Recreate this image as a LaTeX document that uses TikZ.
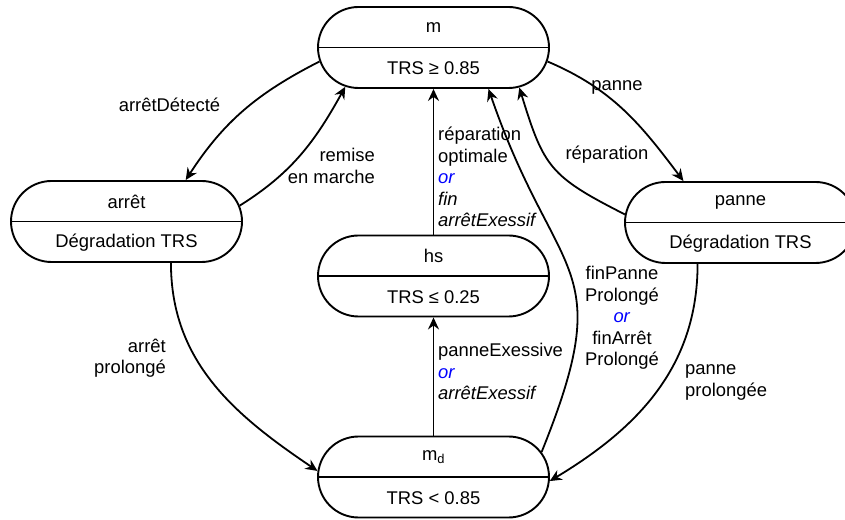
\documentclass[tikz,border=0pt]{standalone}
\usepackage{fontspec}
\setmainfont{Liberation Sans}
\usetikzlibrary{shapes.misc,arrows.meta,backgrounds}
\newcommand{\etat}[4]{
\node[etat] (#1) at (#2) {};
\draw[trait] (#1.west) -- (#1.east);
\node[texte] (#1-titre) at ([yshift=20pt]#1.center) {#3};
\node[texte] (#1-trs) at ([yshift=-21pt]#1.center) {#4};
}
\newcommand{\ou}{\textcolor{blue}{\textit{or}}}

\begin{document}
\begin{tikzpicture}[x=1pt,y=1pt,
    etat/.style={rounded rectangle, draw, line width=1.9pt, fill=white,
      minimum width=231pt, minimum height=81pt, inner sep=0pt},
    trait/.style={line width=1.9pt},
    texte/.style={font=\fontsize{18.4}{21.5}\selectfont, inner sep=0pt},
    fleche/.style={line width=1.8pt, -{Stealth[length=12pt,width=11pt,inset=4pt]}}]
			\useasboundingbox (0,0) rectangle (845,519);
			\clip (0,0) rectangle (845,519);
			
			\etat{m}{433.5,471.5}{m}{TRS ≥ 0.85};
			\etat{arret}{126.5,297.5}{arrêt}{Dégradation TRS};
			\etat{panne}{740.5,296.5}{panne}{Dégradation TRS};
			\etat{hs}{433.5,243}{hs}{TRS ≤ 0.25};
			\etat{md}{433.5,42}{m\textsubscript{d}}{TRS < 0.85};
			
			\begin{scope}[on background layer]
			\draw[fleche] (m.187) to[out=207,in=57] (arret.35);
			\draw[fleche] (arret.8) to[out=32,in=241] (m.204);
			\draw[fleche] (m.353) to[out=337,in=127] (panne.144);
			\draw[fleche] (panne.176) to[out=153,in=287,looseness=1.3] (m.335);
			\draw[fleche] (md.13) to[out=68,in=289,looseness=1.45] (m.323);
			\draw[fleche] (hs.north) -- (m.south);
			\draw[fleche] (md.north) -- (hs.south);
			\draw[fleche] (arret.317) to[out=270,in=146] (md.177);
			\draw[fleche] (panne.224) to[out=270,in=31] (md.358);
			
			\node[texte] (l-detecte) at (169.5,414) {arrêtDétecté};
			\node[texte, anchor=east, align=right] (l-remise) at (375,353) {remise\\en marche};
			\node[texte] (l-panne) at (617,432) {panne};
			\node[texte] (l-reparation) at (607,364) {réparation};
			\node[texte, anchor=west, align=left] (l-optimale) at (438,342)
			  {réparation\\optimale\\\ou\\\textit{fin}\\\textit{arrêtExessif}};
			\node[texte, anchor=west, align=left] (l-exessive) at (438,147.5)
			  {panneExessive\\\ou\\\textit{arrêtExessif}};
			\node[texte, align=center] (l-fin) at (622,201)
			  {finPanne\\Prolongé\\\ou\\finArrêt\\Prolongé};
			\node[texte, anchor=east, align=right] (l-arret) at (166,161) {arrêt\\prolongé};
			\node[texte, anchor=west, align=left] (l-prolongee) at (685,136.5) {panne\\prolongée};
			\end{scope}
			\end{tikzpicture}
\end{document}
